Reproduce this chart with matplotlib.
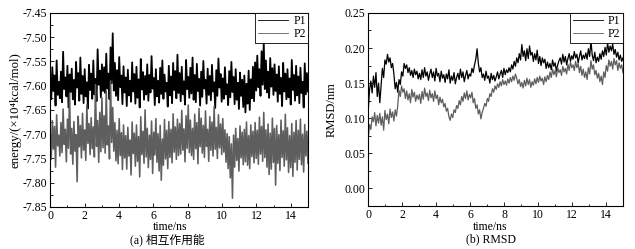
import numpy as np
import matplotlib
matplotlib.use("Agg")
import matplotlib.pyplot as plt
from matplotlib.ticker import MultipleLocator

plt.rcParams['font.family'] = ['Liberation Serif', 'Noto Sans CJK SC', 'DejaVu Sans']
plt.rcParams['font.size'] = 8.5

# Wechselwirkungsenergie (x10^4 kcal/mol), 0..15 ns
energie_p1 = [
    -7.585, -7.628, -7.562, -7.611, -7.579, -7.641, -7.548, -7.619, -7.592, -7.626,
    -7.571, -7.634, -7.530, -7.607, -7.583, -7.622, -7.559, -7.645, -7.577, -7.613,
    -7.565, -7.628, -7.588, -7.639, -7.551, -7.604, -7.574, -7.631, -7.542, -7.617,
    -7.580, -7.636, -7.566, -7.622, -7.593, -7.647, -7.557, -7.609, -7.575, -7.627,
    -7.548, -7.618, -7.586, -7.632, -7.525, -7.598, -7.569, -7.624, -7.556, -7.611,
    -7.562, -7.615, -7.534, -7.606, -7.575, -7.628, -7.521, -7.595, -7.492, -7.610,
    -7.553, -7.621, -7.568, -7.630, -7.541, -7.603, -7.579, -7.638, -7.560, -7.614,
    -7.583, -7.642, -7.567, -7.620, -7.590, -7.633, -7.552, -7.612, -7.576, -7.637,
    -7.561, -7.625, -7.587, -7.645, -7.545, -7.608, -7.572, -7.629, -7.580, -7.618,
    -7.556, -7.631, -7.578, -7.614, -7.539, -7.606, -7.584, -7.640, -7.566, -7.622,
    -7.590, -7.635, -7.563, -7.617, -7.548, -7.627, -7.577, -7.612, -7.594, -7.643,
    -7.559, -7.620, -7.581, -7.636, -7.553, -7.609, -7.570, -7.626, -7.536, -7.615,
    -7.574, -7.632, -7.561, -7.618, -7.591, -7.639, -7.547, -7.607, -7.582, -7.625,
    -7.563, -7.616, -7.542, -7.629, -7.578, -7.634, -7.555, -7.611, -7.586, -7.641,
    -7.571, -7.623, -7.549, -7.606, -7.588, -7.637, -7.565, -7.619, -7.580, -7.630,
    -7.557, -7.612, -7.593, -7.646, -7.568, -7.621, -7.544, -7.604, -7.576, -7.633,
    -7.585, -7.627, -7.562, -7.618, -7.597, -7.640, -7.570, -7.624, -7.551, -7.613,
    -7.582, -7.638, -7.566, -7.629, -7.594, -7.648, -7.573, -7.621, -7.588, -7.644,
    -7.579, -7.655, -7.596, -7.637, -7.569, -7.650, -7.587, -7.626, -7.561, -7.632,
    -7.552, -7.610, -7.538, -7.603, -7.566, -7.621, -7.529, -7.598, -7.512, -7.607,
    -7.548, -7.614, -7.571, -7.625, -7.543, -7.602, -7.564, -7.619, -7.556, -7.611,
    -7.577, -7.633, -7.560, -7.617, -7.584, -7.642, -7.553, -7.612, -7.575, -7.628,
    -7.566, -7.624, -7.585, -7.639, -7.547, -7.609, -7.578, -7.631, -7.559, -7.620,
    -7.581, -7.636, -7.563, -7.615, -7.592, -7.645, -7.554, -7.618, -7.574, -7.612,
]
energie_p2 = [
    -7.695, -7.752, -7.672, -7.731, -7.684, -7.768, -7.660, -7.724, -7.702, -7.745,
    -7.676, -7.738, -7.648, -7.721, -7.690, -7.757, -7.669, -7.729, -7.615, -7.741,
    -7.688, -7.762, -7.674, -7.735, -7.701, -7.798, -7.663, -7.726, -7.682, -7.749,
    -7.657, -7.733, -7.691, -7.754, -7.640, -7.719, -7.678, -7.742, -7.666, -7.730,
    -7.685, -7.747, -7.598, -7.725, -7.672, -7.758, -7.655, -7.736, -7.625, -7.728,
    -7.662, -7.739, -7.610, -7.722, -7.683, -7.751, -7.590, -7.717, -7.645, -7.735,
    -7.676, -7.755, -7.692, -7.761, -7.668, -7.744, -7.697, -7.773, -7.681, -7.749,
    -7.703, -7.772, -7.686, -7.745, -7.712, -7.784, -7.675, -7.740, -7.698, -7.766,
    -7.681, -7.756, -7.705, -7.788, -7.664, -7.742, -7.694, -7.760, -7.650, -7.747,
    -7.688, -7.769, -7.702, -7.752, -7.673, -7.781, -7.696, -7.743, -7.668, -7.758,
    -7.699, -7.776, -7.682, -7.795, -7.710, -7.764, -7.670, -7.751, -7.692, -7.771,
    -7.674, -7.748, -7.690, -7.759, -7.658, -7.737, -7.685, -7.752, -7.669, -7.744,
    -7.678, -7.741, -7.651, -7.733, -7.689, -7.757, -7.662, -7.729, -7.640, -7.738,
    -7.671, -7.744, -7.688, -7.752, -7.659, -7.730, -7.676, -7.761, -7.647, -7.726,
    -7.667, -7.739, -7.682, -7.748, -7.652, -7.725, -7.690, -7.756, -7.664, -7.733,
    -7.675, -7.745, -7.643, -7.731, -7.686, -7.750, -7.660, -7.728, -7.679, -7.742,
    -7.668, -7.737, -7.691, -7.758, -7.699, -7.771, -7.705, -7.790, -7.720, -7.832,
    -7.702, -7.768, -7.688, -7.754, -7.709, -7.776, -7.683, -7.749, -7.696, -7.763,
    -7.690, -7.757, -7.675, -7.764, -7.703, -7.771, -7.681, -7.746, -7.694, -7.759,
    -7.676, -7.750, -7.692, -7.762, -7.665, -7.741, -7.684, -7.756, -7.655, -7.748,
    -7.691, -7.768, -7.679, -7.783, -7.698, -7.772, -7.667, -7.758, -7.688, -7.805,
    -7.682, -7.760, -7.701, -7.775, -7.671, -7.748, -7.693, -7.766, -7.659, -7.753,
    -7.687, -7.779, -7.703, -7.769, -7.678, -7.787, -7.696, -7.758, -7.672, -7.774,
    -7.692, -7.752, -7.669, -7.763, -7.700, -7.778, -7.680, -7.745, -7.694, -7.760,
]

# RMSD (nm), 0..15 ns
rmsd_p1 = [
    0.112, 0.141, 0.153, 0.136, 0.160, 0.144, 0.165, 0.131, 0.150, 0.122,
    0.146, 0.171, 0.158, 0.183, 0.177, 0.191, 0.180, 0.186, 0.172, 0.178,
    0.163, 0.142, 0.151, 0.137, 0.155, 0.148, 0.166, 0.160, 0.178, 0.171,
    0.176, 0.165, 0.172, 0.161, 0.168, 0.158, 0.170, 0.162, 0.167, 0.156,
    0.164, 0.155, 0.169, 0.158, 0.172, 0.160, 0.166, 0.154, 0.163, 0.170,
    0.158, 0.166, 0.153, 0.171, 0.160, 0.164, 0.152, 0.167, 0.157, 0.162,
    0.151, 0.163, 0.156, 0.169, 0.150, 0.160, 0.154, 0.165, 0.149, 0.158,
    0.164, 0.155, 0.170, 0.158, 0.166, 0.152, 0.161, 0.168, 0.156, 0.163,
    0.160, 0.171, 0.165, 0.176, 0.184, 0.199, 0.178, 0.166, 0.172, 0.158,
    0.163, 0.154, 0.167, 0.157, 0.160, 0.150, 0.164, 0.155, 0.161, 0.153,
    0.159, 0.166, 0.156, 0.163, 0.168, 0.158, 0.171, 0.162, 0.169, 0.165,
    0.172, 0.166, 0.176, 0.170, 0.181, 0.174, 0.186, 0.179, 0.192, 0.183,
    0.205, 0.188, 0.196, 0.182, 0.199, 0.185, 0.203, 0.190, 0.194, 0.181,
    0.192, 0.183, 0.197, 0.178, 0.188, 0.175, 0.186, 0.179, 0.184, 0.171,
    0.180, 0.172, 0.178, 0.169, 0.183, 0.174, 0.179, 0.167, 0.176, 0.182,
    0.186, 0.177, 0.191, 0.180, 0.188, 0.176, 0.185, 0.192, 0.181, 0.189,
    0.184, 0.195, 0.186, 0.191, 0.179, 0.188, 0.196, 0.183, 0.190, 0.185,
    0.193, 0.184, 0.199, 0.188, 0.210, 0.190, 0.182, 0.194, 0.179, 0.187,
    0.181, 0.192, 0.184, 0.196, 0.188, 0.201, 0.190, 0.208, 0.194, 0.203,
    0.196, 0.206, 0.191, 0.198, 0.187, 0.194, 0.183, 0.190, 0.181, 0.186,
]
rmsd_p2 = [
    0.072, 0.091, 0.084, 0.102, 0.095, 0.108, 0.089, 0.104, 0.093, 0.107,
    0.090, 0.102, 0.083, 0.111, 0.098, 0.106, 0.092, 0.113, 0.101, 0.109,
    0.096, 0.112, 0.103, 0.118, 0.140, 0.131, 0.146, 0.137, 0.142, 0.128,
    0.139, 0.126, 0.135, 0.122, 0.141, 0.130, 0.137, 0.124, 0.133, 0.127,
    0.134, 0.121, 0.138, 0.127, 0.143, 0.131, 0.136, 0.125, 0.140, 0.129,
    0.135, 0.124, 0.139, 0.128, 0.133, 0.119, 0.130, 0.122, 0.127, 0.116,
    0.121, 0.110, 0.114, 0.102, 0.097, 0.106, 0.101, 0.112, 0.108, 0.118,
    0.114, 0.125, 0.119, 0.131, 0.124, 0.136, 0.128, 0.139, 0.126, 0.134,
    0.129, 0.137, 0.122, 0.128, 0.114, 0.119, 0.106, 0.112, 0.099, 0.108,
    0.114, 0.121, 0.117, 0.128, 0.124, 0.135, 0.131, 0.142, 0.137, 0.146,
    0.141, 0.149, 0.144, 0.152, 0.146, 0.155, 0.148, 0.153, 0.147, 0.156,
    0.150, 0.158, 0.152, 0.160, 0.154, 0.163, 0.157, 0.149, 0.155, 0.145,
    0.151, 0.143, 0.154, 0.146, 0.157, 0.148, 0.155, 0.144, 0.152, 0.147,
    0.156, 0.149, 0.158, 0.151, 0.160, 0.153, 0.157, 0.148, 0.159, 0.152,
    0.161, 0.155, 0.166, 0.158, 0.170, 0.162, 0.168, 0.159, 0.172, 0.165,
    0.169, 0.161, 0.174, 0.166, 0.171, 0.163, 0.177, 0.168, 0.180, 0.172,
    0.176, 0.168, 0.181, 0.172, 0.178, 0.165, 0.174, 0.161, 0.170, 0.158,
    0.166, 0.155, 0.172, 0.163, 0.182, 0.170, 0.176, 0.162, 0.168, 0.157,
    0.164, 0.152, 0.160, 0.148, 0.166, 0.158, 0.175, 0.167, 0.183, 0.174,
    0.181, 0.170, 0.185, 0.176, 0.182, 0.168, 0.179, 0.171, 0.176, 0.165,
]

t_energie = np.linspace(0, 15, len(energie_p1))
t_rmsd = np.linspace(0, 15, len(rmsd_p1))

fig = plt.figure(figsize=(6.35, 2.49), dpi=100)
ax1 = fig.add_axes([0.079, 0.169, 0.406, 0.779])
ax2 = fig.add_axes([0.580, 0.173, 0.401, 0.775])

ax1.plot(t_energie, energie_p1, color='black', lw=1.3, label='P1')
ax1.plot(t_energie, energie_p2, color='#5e5e5e', lw=1.15, label='P2')
ax1.set_xlim(0, 15)
ax1.set_ylim(-7.85, -7.45)
ax1.yaxis.set_major_locator(MultipleLocator(0.05))
ax1.yaxis.set_minor_locator(MultipleLocator(0.025))
ax1.yaxis.set_major_formatter(plt.FuncFormatter(lambda v, p: f'{v:.2f}'))
ax1.set_ylabel('energy/(×10⁴kcal/mol)', fontsize=9.2, labelpad=1)

ax2.plot(t_rmsd, rmsd_p1, color='black', lw=0.9, label='P1')
ax2.plot(t_rmsd, rmsd_p2, color='#5e5e5e', lw=0.9, label='P2')
ax2.set_xlim(0, 15)
ax2.set_ylim(-0.025, 0.25)
ax2.yaxis.set_major_locator(MultipleLocator(0.05))
ax2.yaxis.set_minor_locator(MultipleLocator(0.025))
ax2.yaxis.set_major_formatter(plt.FuncFormatter(lambda v, p: f'{v:.2f}'))
ax2.set_ylabel('RMSD/nm', fontsize=9, labelpad=5)

for ax in (ax1, ax2):
    ax.xaxis.set_major_locator(MultipleLocator(2))
    ax.xaxis.set_minor_locator(MultipleLocator(1))
    ax.tick_params(which='both', direction='in', top=False, right=False, pad=2)
    ax.tick_params(which='major', length=3, width=0.6)
    ax.tick_params(which='minor', length=1.8, width=0.6)
    for s in ax.spines.values():
        s.set_linewidth(0.8)
    leg = ax.legend(loc='upper right', borderaxespad=0, fancybox=False,
                    edgecolor='black', framealpha=1, handlelength=2.6,
                    borderpad=0.2, labelspacing=0.1, handletextpad=0.4)
    leg.get_frame().set_linewidth(0.6)
    for ln in leg.get_lines():
        ln.set_linewidth(0.6)

fig.text(0.268, 0.090, 'time/ns', ha='center', va='center', fontsize=8.5)
fig.text(0.772, 0.090, 'time/ns', ha='center', va='center', fontsize=8.5)
fig.text(0.263, 0.038, '(a) 相互作用能', ha='center', va='center', fontsize=8.5)
fig.text(0.773, 0.038, '(b) RMSD', ha='center', va='center', fontsize=8.5)

fig.savefig('out.png', dpi=100)
